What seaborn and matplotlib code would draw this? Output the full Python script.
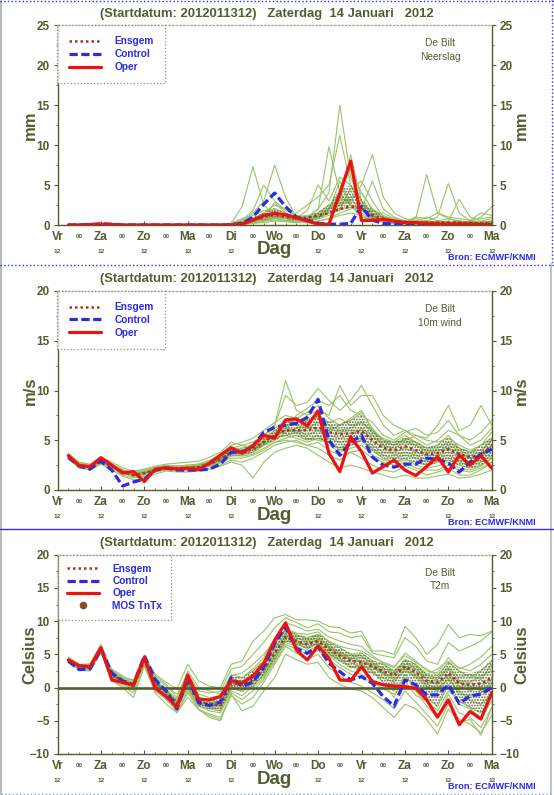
import numpy as np
import pandas as pd
import matplotlib
matplotlib.use("Agg")
import matplotlib.pyplot as plt
from matplotlib.lines import Line2D
from matplotlib.ticker import MultipleLocator
import seaborn as sns

# tijdas: uren na 13 jan 2012 12 UTC
uren = [6, 12, 18, 24, 30, 36, 42, 48, 54, 60, 66, 72, 78, 84, 90, 96, 102, 108, 114, 120,
        126, 132, 138, 144, 150, 156, 162, 168, 174, 180, 186, 192, 198, 204, 210, 216, 222, 228, 234, 240]
dag_uren = [0, 24, 48, 72, 96, 120, 144, 168, 192, 216, 240]
dagen = ['Vr', 'Za', 'Zo', 'Ma', 'Di', 'Wo', 'Do', 'Vr', 'Za', 'Zo', 'Ma']

# ---------------- neerslag (mm) ----------------
neerslag_oper = [0, 0, 0.05, 0.1, 0.05, 0, 0, 0, 0, 0, 0, 0, 0, 0,
                 0.0, 0.0, 0.1, 0.6, 1.2, 1.45, 1.3, 0.9, 0.5, 0.1, 0.1, 4.0, 8.0, 0.55, 0.6, 0.7,
                 0.5, 0.3, 0.3, 0.2, 0.1, 0.1, 0.1, 0.1, 0.05, 0.05]
neerslag_control = [0, 0, 0.05, 0.15, 0.1, 0, 0, 0, 0, 0, 0, 0, 0, 0,
                    0.0, 0.0, 0.2, 1.0, 2.6, 4.0, 2.3, 1.0, 0.6, 0.2, 0.1, 0.1, 0.2, 2.3, 0.6, 0.2,
                    0.1, 0.0, 0.0, 0.0, 0.0, 0.0, 0.0, 0.0, 0.0, 0.0]
neerslag_ensgem = [0, 0, 0.01, 0.02, 0.01, 0, 0, 0, 0, 0, 0, 0, 0, 0,
                   0.02, 0.1, 0.3, 0.7, 1.0, 1.3, 1.0, 0.9, 0.9, 1.2, 1.5, 2.0, 2.3, 2.1, 1.2, 0.8,
                   0.5, 0.4, 0.35, 0.3, 0.3, 0.3, 0.3, 0.25, 0.2, 0.2]
neerslag_leden = [
    [0, 0, 0, 0, 0, 0, 0, 0, 0, 0, 0, 0, 0, 0, 0.0, 0.2, 2.3, 7.3, 2.5, 1.2, 0.8, 0.5, 0.6, 1.2, 2.0, 3.5, 2.5, 1.5, 0.8, 0.4, 0.2, 0.1, 0.1, 0.2, 0.1, 0.1, 0.0, 0.1, 0.1, 0.2],
    [0, 0, 0, 0, 0, 0, 0, 0, 0, 0, 0, 0, 0, 0, 0.0, 0.1, 0.5, 1.5, 3.0, 7.5, 3.5, 1.0, 0.5, 0.8, 1.5, 2.5, 3.5, 4.0, 2.0, 0.8, 0.5, 0.3, 0.2, 0.3, 0.5, 0.8, 0.4, 0.2, 0.3, 0.5],
    [0, 0, 0, 0, 0, 0, 0, 0, 0, 0, 0, 0, 0, 0, 0.0, 0.0, 0.2, 0.8, 1.5, 2.5, 2.0, 1.2, 1.0, 2.0, 4.0, 15.0, 6.0, 3.0, 1.5, 0.5, 0.3, 0.2, 0.5, 1.0, 0.5, 0.3, 0.2, 0.5, 0.8, 1.0],
    [0, 0, 0, 0, 0, 0, 0, 0, 0, 0, 0, 0, 0, 0, 0.0, 0.1, 0.3, 0.5, 0.8, 1.0, 0.8, 1.5, 2.5, 3.5, 5.0, 11.2, 5.0, 2.0, 0.8, 0.3, 0.2, 0.1, 0.1, 0.1, 0.2, 0.1, 0.1, 0.0, 0.1, 0.1],
    [0, 0, 0, 0, 0, 0, 0, 0, 0, 0, 0, 0, 0, 0, 0.0, 0.0, 0.1, 0.3, 0.6, 0.9, 0.5, 0.3, 0.8, 2.0, 9.8, 4.0, 2.5, 1.0, 0.6, 0.4, 0.3, 0.2, 0.2, 0.1, 0.1, 0.2, 0.3, 0.2, 0.1, 0.1],
    [0, 0, 0, 0, 0, 0, 0, 0, 0, 0, 0, 0, 0, 0, 0.0, 0.2, 0.8, 1.2, 1.8, 2.0, 1.5, 1.0, 1.2, 1.5, 2.5, 3.0, 8.8, 3.0, 1.2, 0.5, 0.3, 0.2, 0.3, 0.2, 0.2, 0.1, 0.1, 0.2, 0.2, 0.3],
    [0, 0, 0, 0, 0, 0, 0, 0, 0, 0, 0, 0, 0, 0, 0.0, 0.0, 0.1, 0.2, 0.5, 0.8, 1.0, 0.8, 0.6, 1.0, 2.0, 2.5, 3.0, 5.0, 8.8, 3.5, 1.5, 0.8, 0.5, 0.5, 0.3, 0.2, 0.2, 0.1, 0.2, 0.1],
    [0, 0, 0, 0, 0, 0, 0, 0, 0, 0, 0, 0, 0, 0, 0.0, 0.1, 0.2, 0.5, 0.8, 1.2, 0.8, 0.5, 0.4, 0.5, 0.8, 1.5, 2.0, 2.5, 1.5, 1.0, 0.8, 0.5, 0.8, 6.3, 1.5, 0.8, 0.5, 0.3, 0.2, 0.2],
    [0, 0, 0, 0, 0, 0, 0, 0, 0, 0, 0, 0, 0, 0, 0.0, 0.0, 0.1, 0.2, 0.3, 0.5, 0.5, 0.8, 1.0, 1.5, 2.0, 2.8, 3.2, 2.0, 1.0, 0.5, 0.3, 0.5, 0.8, 0.5, 1.0, 5.2, 1.5, 0.5, 0.3, 0.5],
    [0, 0, 0, 0, 0, 0, 0, 0, 0, 0, 0, 0, 0, 0, 0.0, 0.0, 0.3, 0.6, 1.0, 1.5, 1.2, 0.8, 0.6, 0.8, 1.2, 2.0, 4.5, 5.5, 3.0, 1.0, 0.4, 0.2, 0.2, 0.2, 0.3, 0.5, 3.2, 1.0, 0.5, 0.8],
    [0, 0, 0, 0, 0, 0, 0, 0, 0, 0, 0, 0, 0, 0, 0.0, 0.1, 0.4, 0.9, 1.2, 1.8, 1.0, 0.6, 0.5, 0.8, 1.8, 5.5, 2.5, 1.0, 0.8, 0.5, 0.4, 0.3, 0.2, 0.4, 0.3, 0.2, 0.3, 0.5, 1.0, 2.3],
    [0, 0, 0, 0, 0, 0, 0, 0, 0, 0, 0, 0, 0, 0, 0.0, 0.0, 0.2, 0.4, 0.6, 0.8, 0.6, 0.4, 0.5, 1.0, 1.5, 2.0, 2.2, 1.8, 1.2, 1.5, 0.8, 0.5, 0.4, 0.3, 0.2, 0.2, 0.2, 0.3, 0.4, 0.3],
    [0, 0, 0, 0, 0, 0, 0, 0, 0, 0, 0, 0, 0, 0, 0.0, 0.1, 0.3, 0.6, 1.0, 2.8, 1.5, 0.9, 1.8, 5.0, 3.0, 6.0, 5.0, 2.5, 1.8, 1.0, 0.5, 0.3, 0.3, 0.3, 0.2, 0.2, 0.2, 0.1, 0.1, 0.1],
    [0, 0, 0, 0, 0, 0, 0, 0, 0, 0, 0, 0, 0, 0, 0.0, 0.0, 0.1, 0.3, 0.5, 0.6, 0.4, 0.3, 0.3, 0.5, 0.8, 1.2, 1.5, 1.2, 0.8, 0.6, 0.4, 0.3, 0.3, 0.2, 0.2, 0.3, 0.2, 0.2, 0.2, 0.2],
    [0, 0, 0, 0, 0, 0, 0, 0, 0, 0, 0, 0, 0, 0, 0.0, 0.2, 0.6, 1.8, 5.0, 3.0, 1.8, 1.2, 0.8, 1.0, 1.5, 1.8, 2.5, 2.0, 5.5, 2.0, 1.0, 0.5, 0.4, 0.5, 0.4, 0.3, 0.5, 0.4, 0.3, 0.4],
    [0, 0, 0, 0, 0, 0, 0, 0, 0, 0, 0, 0, 0, 0, 0.0, 0.0, 0.2, 0.5, 0.8, 1.2, 1.0, 0.8, 1.0, 1.2, 2.2, 4.0, 7.0, 4.0, 2.0, 1.2, 0.6, 0.4, 1.0, 0.8, 1.5, 1.0, 0.8, 0.6, 1.5, 1.2],
]

# ---------------- 10m wind (m/s) ----------------
wind_oper = [3.45, 2.45, 2.35, 3.25, 2.5, 1.7, 1.85, 0.85, 2.1, 2.25, 2.1, 2.2, 2.05, 2.7, 3.5, 4.25, 3.7, 4.45, 5.5, 5.2,
             7.05, 7.15, 6.45, 7.95, 3.7, 1.85, 5.35, 3.85, 1.7, 2.35, 3.0, 2.0, 1.45, 2.35, 3.35, 1.8, 3.5, 2.5, 3.45, 2.2]
wind_control = [3.3, 2.4, 2.1, 2.9, 2.0, 0.4, 0.8, 1.1, 2.0, 2.2, 2.0, 2.0, 2.0, 2.1, 2.6, 3.8, 3.8, 4.4, 5.8, 6.3,
                6.5, 6.7, 7.3, 9.1, 5.0, 3.5, 4.8, 5.5, 3.3, 2.5, 2.3, 2.6, 2.6, 3.2, 3.1, 2.7, 1.8, 2.8, 3.6, 4.1]
wind_ensgem = [3.4, 2.5, 2.3, 2.9, 2.4, 1.8, 1.5, 1.7, 2.0, 2.2, 2.2, 2.2, 2.3, 2.6, 3.1, 3.8, 3.8, 4.1, 4.8, 5.5,
               6.0, 6.0, 6.0, 6.3, 5.8, 5.6, 5.7, 5.9, 5.0, 4.2, 4.0, 4.4, 4.0, 3.6, 3.7, 4.1, 3.6, 3.3, 3.5, 4.5]
wind_leden = [
    [3.6, 2.7, 2.5, 3.1, 2.6, 2.0, 1.8, 2.0, 2.3, 2.5, 2.4, 2.5, 2.6, 3.0, 3.6, 4.5, 4.8, 5.2, 6.0, 6.8, 7.5, 7.2, 7.8, 8.5, 7.2, 6.5, 7.0, 7.8, 6.2, 5.0, 4.5, 5.2, 4.8, 4.2, 4.5, 5.5, 4.2, 3.8, 4.5, 5.8],
    [3.2, 2.3, 2.1, 2.7, 2.2, 1.5, 1.2, 1.4, 1.8, 2.0, 2.0, 1.9, 2.0, 2.2, 2.5, 3.0, 2.8, 3.2, 3.8, 4.5, 4.8, 5.0, 4.5, 4.2, 3.5, 3.0, 3.8, 3.2, 2.5, 2.0, 1.8, 2.4, 2.0, 1.5, 1.8, 2.2, 1.5, 1.5, 2.0, 2.8],
    [3.5, 2.6, 2.4, 3.0, 2.5, 1.9, 1.6, 1.8, 2.1, 2.4, 2.3, 2.3, 2.4, 2.8, 3.4, 4.2, 4.5, 4.8, 5.5, 6.5, 9.5, 8.5, 8.8, 10.2, 9.0, 8.0, 9.0, 10.5, 8.5, 6.5, 5.5, 6.0, 5.2, 4.5, 5.0, 6.0, 5.5, 4.5, 5.0, 6.2],
    [3.3, 2.4, 2.2, 2.8, 2.3, 1.7, 1.4, 1.6, 1.9, 2.1, 2.1, 2.1, 2.2, 2.5, 2.9, 3.5, 3.4, 3.6, 4.2, 4.8, 5.2, 5.5, 5.0, 5.5, 4.5, 3.8, 4.2, 4.5, 3.5, 3.0, 2.8, 3.2, 2.5, 2.2, 2.4, 2.8, 2.2, 2.0, 2.4, 3.2],
    [3.4, 2.5, 2.4, 2.9, 2.4, 1.9, 1.6, 1.8, 2.0, 2.2, 2.3, 2.3, 2.4, 2.7, 3.2, 4.0, 4.0, 4.5, 5.2, 6.0, 6.5, 6.8, 7.0, 7.2, 6.8, 7.2, 6.5, 6.8, 5.8, 5.2, 4.8, 5.0, 4.5, 4.0, 3.8, 4.5, 4.0, 3.5, 3.8, 5.0],
    [3.5, 2.6, 2.3, 3.0, 2.5, 1.8, 1.3, 1.5, 2.2, 2.3, 2.2, 2.4, 2.5, 2.8, 3.4, 4.0, 3.8, 4.2, 5.0, 5.8, 6.2, 6.0, 5.5, 6.0, 5.5, 5.2, 5.5, 6.2, 5.5, 4.5, 4.2, 4.8, 4.5, 3.8, 4.0, 4.2, 3.8, 3.2, 3.2, 4.2],
    [3.7, 2.8, 2.6, 3.3, 2.8, 2.2, 1.9, 2.1, 2.4, 2.6, 2.7, 2.8, 2.9, 3.3, 3.8, 4.8, 4.5, 4.2, 5.0, 5.5, 6.0, 7.5, 8.2, 9.0, 8.5, 9.5, 8.0, 7.5, 6.8, 5.5, 5.0, 5.8, 6.2, 5.5, 5.8, 7.0, 5.5, 5.0, 5.8, 7.0],
    [3.1, 2.2, 2.0, 2.6, 2.0, 1.4, 1.0, 1.2, 1.6, 1.9, 1.8, 1.8, 1.9, 2.1, 2.4, 2.8, 2.5, 1.2, 2.8, 3.8, 4.2, 4.5, 4.2, 3.5, 2.8, 2.2, 2.5, 2.2, 1.8, 1.5, 1.2, 1.5, 1.2, 1.2, 1.4, 1.6, 1.2, 1.3, 1.6, 2.0],
    [3.4, 2.5, 2.3, 2.9, 2.4, 1.8, 1.5, 1.7, 2.0, 2.2, 2.2, 2.2, 2.3, 2.6, 3.2, 3.8, 4.2, 4.5, 5.5, 6.2, 7.0, 6.5, 6.2, 6.8, 6.0, 6.5, 7.2, 8.0, 6.0, 4.5, 3.5, 3.8, 3.5, 3.0, 3.2, 3.5, 3.0, 2.8, 3.0, 3.8],
    [3.6, 2.6, 2.4, 3.0, 2.6, 2.0, 1.7, 1.9, 2.2, 2.3, 2.3, 2.3, 2.4, 2.6, 3.0, 3.6, 3.6, 3.8, 4.5, 5.2, 5.5, 5.8, 5.2, 5.0, 4.8, 4.0, 4.5, 5.0, 4.2, 3.5, 3.2, 3.5, 3.2, 2.8, 3.0, 3.2, 2.8, 2.5, 2.8, 3.5],
    [3.3, 2.4, 2.3, 2.8, 2.3, 1.7, 1.4, 1.6, 1.9, 2.1, 2.1, 2.1, 2.2, 2.4, 2.8, 3.4, 3.5, 3.8, 4.5, 5.0, 5.8, 6.2, 6.5, 6.0, 5.2, 4.8, 5.0, 5.2, 4.5, 3.8, 3.8, 4.2, 3.8, 3.5, 3.5, 3.8, 3.5, 3.2, 3.5, 4.5],
    [3.5, 2.7, 2.5, 3.1, 2.6, 2.0, 1.6, 1.8, 2.1, 2.3, 2.3, 2.3, 2.5, 2.8, 3.3, 3.9, 3.9, 4.2, 4.8, 5.5, 6.0, 5.8, 6.2, 6.8, 6.2, 5.8, 6.0, 6.0, 5.2, 4.8, 4.5, 5.0, 5.5, 5.0, 4.8, 5.2, 4.5, 4.0, 4.5, 5.2],
    [3.3, 2.4, 2.2, 2.8, 2.3, 1.8, 1.5, 1.6, 2.0, 2.1, 2.2, 2.1, 2.3, 2.5, 3.0, 3.7, 3.7, 4.0, 4.6, 5.2, 5.5, 5.2, 4.8, 5.2, 4.8, 4.2, 4.8, 5.0, 4.0, 3.2, 2.8, 3.0, 2.8, 2.5, 2.8, 3.0, 2.5, 2.2, 2.5, 3.2],
    [3.5, 2.6, 2.4, 3.0, 2.5, 1.9, 1.5, 1.7, 2.0, 2.2, 2.2, 2.2, 2.3, 2.6, 3.1, 3.8, 3.8, 4.0, 4.8, 5.5, 6.8, 7.0, 6.8, 7.5, 6.5, 6.0, 6.2, 6.8, 6.0, 5.0, 4.8, 5.5, 4.8, 4.2, 4.2, 4.8, 4.2, 3.8, 4.0, 5.0],
    [3.2, 2.3, 2.2, 2.7, 2.3, 1.7, 1.4, 1.5, 1.9, 2.1, 2.0, 2.0, 2.2, 2.4, 2.7, 3.2, 3.2, 3.5, 4.0, 4.8, 5.0, 4.8, 4.5, 4.8, 4.0, 3.5, 3.8, 4.0, 3.2, 2.8, 2.5, 2.8, 2.2, 2.0, 2.0, 2.5, 2.0, 1.8, 2.2, 2.8],
    [3.6, 2.7, 2.5, 3.1, 2.6, 2.0, 1.7, 1.9, 2.2, 2.4, 2.4, 2.5, 2.6, 2.9, 3.5, 4.2, 4.2, 4.6, 5.5, 6.5, 11.0, 8.0, 7.5, 8.0, 7.5, 10.5, 8.5, 9.5, 9.5, 7.5, 6.5, 6.0, 5.5, 5.2, 6.5, 8.5, 6.0, 6.5, 8.5, 6.5],
]

# ---------------- T2m (Celsius) ----------------
t2m_oper = [4.15, 3.3, 3.15, 6.0, 1.15, 0.75, 0.4, 4.55, -0.1, -1.35, -2.95, 1.9, -1.75, -1.85, -1.35, 1.05, 0.65, 1.75, 3.65, 7.1,
            9.75, 5.65, 4.15, 6.25, 4.4, 1.15, 1.05, 3.15, 0.9, 0.4, 0.25, 0.15, -0.1, -1.85, -4.45, -1.85, -5.6, -3.6, -4.75, -0.75]
t2m_control = [4.0, 2.7, 2.8, 5.8, 2.2, 1.0, 0.4, 4.8, 1.2, -0.5, -3.2, 1.5, -2.3, -2.7, -2.2, 1.5, 0.2, 0.8, 3.1, 6.6,
               9.1, 5.9, 5.15, 6.15, 3.65, 2.4, 1.15, 1.65, 0.65, -1.35, -2.8, 1.15, 0.4, -1.1, -1.1, 0.4, -2.4, -1.25, -1.0, 0.0]
t2m_ensgem = [4.2, 3.0, 3.0, 5.6, 2.0, 1.0, 0.3, 4.0, 0.8, -0.6, -2.4, 0.6, -2.0, -2.6, -2.6, 0.6, 0.5, 1.2, 2.8, 5.2,
              7.6, 7.0, 6.5, 7.0, 5.8, 4.8, 4.0, 3.8, 3.2, 2.4, 1.8, 3.2, 2.3, 1.0, 0.8, 2.2, 0.6, 0.4, 0.6, 1.5]
t2m_leden = [
    [4.5, 3.4, 3.2, 6.2, 1.8, 1.2, 0.8, 4.9, 1.0, -0.2, -1.8, 1.5, -1.0, -1.5, -1.2, 2.0, 1.5, 2.8, 4.5, 7.5, 9.8, 9.2, 8.5, 8.8, 7.6, 7.0, 6.5, 6.2, 4.8, 3.6, 3.0, 5.2, 4.0, 2.5, 2.2, 4.5, 2.8, 3.5, 4.6, 6.2],
    [3.9, 2.8, 2.6, 5.4, 1.5, 0.5, -0.4, 3.6, 0.2, -1.2, -3.2, 0.2, -2.8, -3.5, -3.8, -0.5, -1.2, 0.2, 2.0, 4.8, 7.2, 6.8, 5.8, 6.8, 4.8, 3.5, 2.5, 2.0, 1.2, 0.5, -0.5, 1.5, 0.2, -1.5, -2.8, 0.5, -2.5, -3.2, -4.5, -2.0],
    [4.3, 3.1, 3.1, 5.8, 2.5, 1.6, 1.0, 4.4, 1.5, 0.2, -1.0, 2.0, -0.5, -0.8, -0.6, 2.8, 3.2, 5.0, 6.8, 9.0, 10.5, 9.8, 9.0, 9.6, 8.4, 8.2, 7.5, 7.8, 5.2, 4.8, 4.5, 7.5, 6.2, 4.0, 3.5, 6.8, 5.5, 6.2, 7.0, 8.4],
    [4.0, 2.9, 2.8, 5.5, 1.2, 0.2, -0.8, 3.4, -0.5, -1.8, -3.6, -0.5, -3.2, -4.2, -4.8, -1.2, -2.5, -1.5, 0.8, 3.5, 6.2, 5.2, 4.2, 5.0, 3.0, 1.8, 0.8, 0.2, -0.8, -1.8, -3.2, -0.5, -2.2, -4.0, -5.8, -2.5, -4.8, -5.5, -6.8, -4.2],
    [4.6, 3.5, 3.5, 6.4, 2.2, 1.4, 0.5, 4.2, 0.6, -0.8, -2.8, 0.8, -2.2, -2.8, -2.4, 1.0, 0.8, 1.5, 3.2, 5.8, 8.2, 7.5, 6.8, 7.2, 6.5, 5.2, 4.8, 4.5, 3.8, 2.8, 2.5, 4.0, 2.8, 1.2, 0.5, 2.0, 0.8, 0.2, -0.5, 0.8],
    [4.1, 3.0, 2.9, 5.7, 2.8, 1.8, 0.5, 3.8, 1.2, -0.4, -2.0, 1.2, -1.5, -2.2, -2.8, 0.2, 0.8, 1.8, 3.8, 6.5, 8.8, 8.0, 7.2, 7.8, 6.0, 5.5, 4.2, 5.2, 4.0, 3.5, 2.5, 3.5, 3.2, 1.8, 1.5, 3.0, 1.5, 2.0, 1.2, 3.5],
    [3.8, 2.6, 2.5, 5.2, 1.6, 0.8, 0.0, 4.0, 0.0, -1.5, -3.0, 0.0, -2.5, -3.0, -3.2, 0.0, -0.2, 0.5, 1.8, 4.2, 6.8, 6.2, 5.5, 6.2, 5.0, 4.0, 3.2, 2.8, 2.2, 1.5, 0.8, 2.8, 1.5, 0.2, -0.5, 1.5, -1.0, -1.2, -0.8, 0.5],
    [4.4, 3.3, 3.3, 6.0, 2.0, 1.1, 0.6, 4.6, 1.8, 0.5, -1.5, 2.5, 0.0, -0.5, -1.0, 1.8, 2.2, 3.5, 5.0, 7.2, 8.5, 7.8, 7.5, 8.0, 7.0, 6.2, 5.8, 5.5, 4.5, 3.8, 3.2, 4.8, 3.8, 2.8, 1.8, 3.8, 2.5, 1.5, 2.5, 4.0],
    [4.2, 3.0, 3.0, 5.6, 1.4, 0.6, -0.2, 3.5, 0.4, -1.0, -3.8, -0.8, -3.3, -4.5, -5.0, -0.8, -1.8, -0.5, 1.2, 4.0, 7.5, 7.2, 6.2, 6.5, 5.5, 4.5, 3.0, 3.5, 2.5, 0.8, -1.5, 2.0, -0.5, -2.8, -4.5, -1.0, -3.8, -4.5, -6.0, -3.0],
    [4.0, 3.2, 3.4, 6.1, 2.4, 1.2, 0.2, 4.2, 0.8, -0.6, -2.2, 1.0, -1.8, -2.5, -2.0, 1.2, 1.0, 2.0, 3.5, 6.0, 8.0, 7.5, 7.0, 7.5, 6.2, 5.0, 4.5, 4.0, 3.5, 2.5, 2.2, 3.2, 2.8, 1.5, 1.2, 2.8, 1.0, 0.8, 1.8, 2.5],
    [4.5, 3.1, 2.9, 5.9, 1.8, 0.9, 0.4, 4.3, 0.5, -0.8, -2.5, 0.5, -2.0, -2.5, -2.5, 0.8, 0.2, 0.8, 2.5, 5.2, 7.8, 6.5, 6.0, 6.8, 5.2, 4.2, 3.8, 3.0, 3.0, 2.0, 1.2, 2.5, 1.8, 0.5, 0.0, 1.2, -0.5, -2.0, -2.5, -1.0],
    [3.7, 2.7, 2.7, 5.5, 1.9, 1.0, 0.2, 3.9, 0.9, -0.5, -2.6, 0.4, -2.4, -2.9, -2.9, 0.3, 0.6, 1.0, 2.2, 4.5, 7.0, 6.8, 6.5, 7.2, 5.8, 4.8, 4.2, 3.8, 3.2, 2.2, 1.5, 3.0, 2.0, 0.8, 0.5, 1.8, 0.2, -0.5, 0.2, 1.2],
    [4.3, 3.4, 3.6, 6.5, 2.6, 1.5, 1.2, 4.8, 2.0, 0.8, -0.2, 3.5, 1.0, 0.2, 0.0, 3.5, 4.0, 7.0, 8.5, 10.5, 11.0, 10.2, 10.2, 10.0, 9.2, 9.0, 8.2, 8.5, 5.5, 5.5, 5.0, 9.2, 7.5, 5.0, 6.5, 9.5, 7.5, 8.0, 7.8, 8.5],
    [4.1, 2.9, 2.7, 5.3, 1.0, 0.0, -1.5, 3.2, -0.8, -2.5, -3.8, -1.5, -3.3, -4.0, -4.5, -1.0, -3.5, -2.8, -0.5, 1.5, 5.0, 4.2, 3.5, 3.8, 1.5, 0.5, -0.2, -0.5, -1.5, -3.0, -4.5, -2.5, -3.2, -4.8, -7.0, -3.2, -5.2, -4.8, -7.2, -3.0],
    [4.4, 3.2, 3.0, 5.9, 2.1, 1.3, 0.7, 4.1, 1.1, -0.3, -2.2, 1.0, -1.6, -2.0, -2.2, 1.5, 1.5, 2.5, 4.0, 6.8, 8.8, 8.2, 8.0, 8.4, 6.8, 6.0, 5.0, 4.8, 3.5, 3.0, 2.0, 4.2, 3.5, 2.0, 2.8, 4.0, 3.0, 2.5, 3.5, 5.0],
    [3.9, 2.8, 2.8, 5.6, 1.7, 0.7, 0.0, 3.7, 0.3, -1.0, -3.0, -0.2, -2.8, -3.2, -3.5, -0.2, -0.5, 0.0, 1.5, 3.8, 6.5, 5.8, 5.0, 5.6, 4.2, 3.0, 2.0, 1.5, 0.8, -0.2, -1.0, 1.0, -1.2, -2.0, -3.5, -0.5, -2.0, -3.0, -3.8, -1.5],
]

# kleuren
olijf = '#525e30'
groen = '#9cc26a'
spikkel = '#56692f'
rood = '#ee1111'
blauw = '#2b2be6'
ensgem_kleur = '#a3352a'

sns.set_style("ticks")
plt.rcParams['font.family'] = ['Liberation Sans', 'DejaVu Sans']
plt.rcParams['font.weight'] = 'bold'
plt.rcParams['hatch.linewidth'] = 0.9

W, H = 554, 795
fig = plt.figure(figsize=(W / 100, H / 100), dpi=100)
fig.patch.set_facecolor('white')

titel = '(Startdatum: 2012011312)   Zaterdag  14 Januari   2012'


def paneel(top, bottom, leden, ensgem, control, oper, ylim, eenheid, param, mos=False):
    ax = fig.add_axes([57.5 / W, 1 - bottom / H, 434.3 / W, (bottom - top) / H])
    n = len(leden)
    df = pd.DataFrame({'uur': np.tile(uren, n),
                       'lid': np.repeat(np.arange(n), len(uren)),
                       'waarde': np.concatenate([np.array(l, float) for l in leden])})
    sns.lineplot(data=df, x='uur', y='waarde', units='lid', estimator=None,
                 color=groen, linewidth=0.8, legend=False, ax=ax, zorder=1)
    # donkere kern van de pluim
    arr = np.array(leden, float)
    onder = np.percentile(arr, 25, axis=0)
    boven = np.percentile(arr, 75, axis=0)
    ax.fill_between(uren, onder, boven, facecolor='none', edgecolor=spikkel,
                    hatch='......', linewidth=0, zorder=1.5)
    if mos:
        ax.axhline(0, color=olijf, lw=1.9, zorder=2)
    sns.lineplot(x=uren, y=ensgem, color=ensgem_kleur, linewidth=1.8,
                 linestyle=(0, (1, 1.2)), ax=ax, zorder=3)
    sns.lineplot(x=uren, y=control, color=blauw, linewidth=2.3,
                 linestyle=(0, (2.6, 1.1)), ax=ax, zorder=4)
    sns.lineplot(x=uren, y=oper, color=rood, linewidth=2.3, ax=ax, zorder=5)

    ax.set_xlim(0, 240)
    ax.set_ylim(*ylim)
    ax.set_xlabel('')
    ax.set_ylabel('')

    # x-as: dagen en 00-tijden
    ax.set_xticks(dag_uren)
    ax.set_xticklabels(dagen)
    klein = [h for h in uren if h % 24]
    ax.set_xticks(klein, minor=True)
    ax.set_xticklabels(['00' if h % 24 == 12 else '' for h in klein], minor=True)
    ax.tick_params(axis='x', which='major', direction='in', length=3, width=0.8,
                   pad=4, labelsize=8.5, colors=olijf)
    ax.tick_params(axis='x', which='minor', direction='in', length=1.8, width=0.6,
                   pad=6.5, labelsize=4.5, colors=olijf)

    # y-as links en rechts
    ax.yaxis.set_major_locator(MultipleLocator(5))
    ax.yaxis.set_minor_locator(MultipleLocator(2.5))
    ax.tick_params(axis='y', which='both', left=True, right=True,
                   labelleft=True, labelright=True, direction='out', colors=olijf)
    ax.tick_params(axis='y', which='major', length=3, width=0.8, pad=2.5, labelsize=8.5)
    ax.tick_params(axis='y', which='minor', length=1.5, width=0.6)

    for kant in ['left', 'right', 'bottom']:
        ax.spines[kant].set_color(olijf)
        ax.spines[kant].set_linewidth(1.0)
    ax.spines['top'].set_color('#a8a8a0')
    ax.spines['top'].set_linestyle(':')
    ax.spines['top'].set_linewidth(1.0)

    hoogte = bottom - top
    ax.text(0.482, 1 + 11.8 / hoogte, titel, transform=ax.transAxes, ha='center',
            va='center', fontsize=9.4, color=olijf)
    ax.text(-0.063, 0.5, eenheid, transform=ax.transAxes, rotation=90, ha='center',
            va='center', fontsize=12, color=olijf)
    ax.text(1.069, 0.5, eenheid, transform=ax.transAxes, rotation=90, ha='center',
            va='center', fontsize=12, color=olijf)
    ax.text(0.881, 1 - 13 / hoogte, 'De Bilt\n' + param, transform=ax.transAxes,
            ha='center', va='top', fontsize=7.3, fontweight='normal', color=olijf,
            linespacing=1.45)
    ax.text(0.5, -25 / hoogte, 'Dag', transform=ax.transAxes, ha='center', va='center',
            fontsize=13.5, color=olijf)
    for i, h in enumerate(dag_uren):
        if dagen[i] == 'Wo':
            continue
        ax.text(h, -26.7 / hoogte, '12', transform=ax.get_xaxis_transform(),
                ha='center', va='center', fontsize=4.6, color=olijf)
    ax.text(1.102, -32.7 / hoogte, 'Bron: ECMWF/KNMI', transform=ax.transAxes,
            ha='right', va='center', fontsize=6.6, color=blauw)

    # legenda
    handles = [Line2D([], [], color=ensgem_kleur, lw=1.8, linestyle=(0, (1, 1.2))),
               Line2D([], [], color=blauw, lw=2.3, linestyle=(0, (2.6, 1.1))),
               Line2D([], [], color=rood, lw=2.3)]
    labels = ['Ensgem', 'Control', 'Oper']
    if mos:
        handles.append(Line2D([], [], color='none', marker='o', markersize=4.5,
                              markerfacecolor='#c0302a', markeredgecolor='#4d6a2d'))
        labels.append('MOS TnTx')
    leg = ax.legend(handles, labels, loc='upper left', borderaxespad=0,
                    frameon=True, fancybox=False, handlelength=3.2, handletextpad=1.3,
                    labelspacing=0.22 if mos else 0.28, borderpad=0.9 if mos else 1.1,
                    prop={'weight': 'bold', 'size': 7.3}, labelcolor=blauw)
    leg.get_frame().set_edgecolor('#6f7a5a')
    leg.get_frame().set_linestyle(':')
    leg.get_frame().set_linewidth(0.9)
    leg.set_zorder(10)
    return ax


paneel(25.3, 225, neerslag_leden, neerslag_ensgem, neerslag_control, neerslag_oper,
       (0, 25), 'mm', 'Neerslag')
paneel(291, 490, wind_leden, wind_ensgem, wind_control, wind_oper,
       (0, 20), 'm/s', '10m wind')
paneel(554.7, 754, t2m_leden, t2m_ensgem, t2m_control, t2m_oper,
       (-10, 20), 'Celsius', 'T2m', mos=True)

# randen rond de panelen
def lijn(x0, y0, x1, y1, **kw):
    fig.add_artist(Line2D([x0 / W, x1 / W], [1 - y0 / H, 1 - y1 / H],
                          transform=fig.transFigure, **kw))

lijn(1, 1, 1, 794, color='#b4bcb4', lw=1.5)
lijn(551, 264, 551, 794, color='#b4bcb4', lw=1.2)
lijn(1, 793.5, 553, 793.5, color='#8890c8', lw=1.0, linestyle=':')
lijn(0, 1, 554, 1, color='#3030e0', lw=1.0, linestyle=':')
lijn(552, 0, 552, 264, color='#3030e0', lw=1.0, linestyle=':')
lijn(0, 264.5, 554, 264.5, color='#3030e0', lw=1.0, linestyle=':')
lijn(0, 529.3, 554, 529.3, color='#3030e0', lw=1.0)

fig.savefig('out.png', dpi=100, facecolor='white')
